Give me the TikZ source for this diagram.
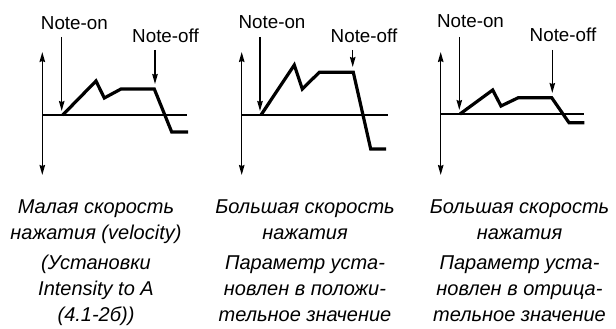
\documentclass[tikz,border=0pt]{standalone}
\usepackage{fontspec}
\setmainfont{Liberation Sans}
\usetikzlibrary{arrows.meta}
\begin{document}
\begin{tikzpicture}[x=1pt,y=-1pt,
 tip/.tip={Stealth[length=10pt,width=5.5pt,inset=1pt]},
 axis/.style={line width=1.4pt},
 vaxis/.style={line width=1.4pt,tip-tip},
 env/.style={line width=3.2pt,line join=miter},
 marker/.style={line width=1.3pt,-tip},
 lbl/.style={font=\fontsize{18.8}{20}\selectfont,anchor=base,inner sep=0pt},
 captxt/.style={font=\fontsize{20}{26}\selectfont\itshape,anchor=base,inner sep=0pt}]
\useasboundingbox (0,0) rectangle (616,329);
% ---------- panel 1 ----------
\coordinate (a1t) at (42.3,52);
\coordinate (a1b) at (42.3,175);
\coordinate (h1l) at (42.3,115);
\coordinate (h1r) at (187,115);
\draw[vaxis] (a1b) -- (a1t);
\draw[axis] (h1l) -- (h1r);
\coordinate (e1a) at (62.7,115);
\coordinate (e1b) at (96,81);
\coordinate (e1c) at (104.3,98);
\coordinate (e1d) at (121,89);
\coordinate (e1e) at (154.3,89);
\coordinate (e1f) at (171.7,132);
\coordinate (e1g) at (188,132);
\draw[env] (e1a) -- (e1b) -- (e1c) -- (e1d) -- (e1e) -- (e1f) -- (e1g);
\node[lbl] (on1) at (74.4,29.3) {Note-on};
\node[lbl] (off1) at (165.5,43) {Note-off};
\coordinate (on1s) at (61.7,37);
\coordinate (on1e) at (61.7,111);
\coordinate (off1s) at (155,50);
\coordinate (off1e) at (155,84);
\draw[marker] (on1s) -- (on1e);
\draw[marker] (off1s) -- (off1e);
% ---------- panel 2 ----------
\coordinate (a2t) at (241.7,52);
\coordinate (a2b) at (241.7,175);
\coordinate (h2l) at (241.7,115);
\coordinate (h2r) at (388,115);
\draw[vaxis] (a2b) -- (a2t);
\draw[axis] (h2l) -- (h2r);
\coordinate (e2a) at (261,115);
\coordinate (e2b) at (294.3,65);
\coordinate (e2c) at (302.3,89);
\coordinate (e2d) at (319.3,72.3);
\coordinate (e2e) at (353.3,72.3);
\coordinate (e2f) at (370.7,149);
\coordinate (e2g) at (386,149);
\draw[env] (e2a) -- (e2b) -- (e2c) -- (e2d) -- (e2e) -- (e2f) -- (e2g);
\node[lbl] (on2) at (272,28.7) {Note-on};
\node[lbl] (off2) at (364,42.7) {Note-off};
\coordinate (on2s) at (260,37);
\coordinate (on2e) at (260,111);
\coordinate (off2s) at (352.7,50);
\coordinate (off2e) at (352.7,67);
\draw[marker] (on2s) -- (on2e);
\draw[marker] (off2s) -- (off2e);
% ---------- panel 3 ----------
\coordinate (a3t) at (440.7,52);
\coordinate (a3b) at (440.7,175);
\coordinate (h3l) at (440.7,114);
\coordinate (h3r) at (584,114);
\draw[vaxis] (a3b) -- (a3t);
\draw[axis] (h3l) -- (h3r);
\coordinate (e3a) at (460,114);
\coordinate (e3b) at (492.7,90);
\coordinate (e3c) at (501,106);
\coordinate (e3d) at (518.3,97.7);
\coordinate (e3e) at (551.7,97.7);
\coordinate (e3f) at (569,122.7);
\coordinate (e3g) at (584.3,122.7);
\draw[env] (e3a) -- (e3b) -- (e3c) -- (e3d) -- (e3e) -- (e3f) -- (e3g);
\node[lbl] (on3) at (470.5,27.3) {Note-on};
\node[lbl] (off3) at (563,41.7) {Note-off};
\coordinate (on3s) at (459.3,37);
\coordinate (on3e) at (459.3,110);
\coordinate (off3s) at (552.3,50);
\coordinate (off3e) at (552.3,93);
\draw[marker] (on3s) -- (on3e);
\draw[marker] (off3s) -- (off3e);
% ---------- captions ----------
\node[captxt] (c1a) at (96,213) {Малая скорость};
\node[captxt] (c1b) at (96,239.3) {нажатия (velocity)};
\node[captxt] (c1c) at (96,269) {(Установки};
\node[captxt] (c1d) at (96,295) {Intensity to A};
\node[captxt] (c1e) at (96,321) {(4.1-2б))};
\node[captxt] (c2a) at (305,213) {Большая скорость};
\node[captxt] (c2b) at (305,239.3) {нажатия};
\node[captxt] (c2c) at (305,269.3) {Параметр уста-};
\node[captxt] (c2d) at (305,295.7) {новлен в положи-};
\node[captxt] (c2e) at (305,321.7) {тельное значение};
\node[captxt] (c3a) at (519.5,213) {Большая скорость};
\node[captxt] (c3b) at (519.5,239.3) {нажатия};
\node[captxt] (c3c) at (519.5,269.3) {Параметр уста-};
\node[captxt] (c3d) at (519.5,295.7) {новлен в отрица-};
\node[captxt] (c3e) at (519.5,321.7) {тельное значение};
\end{tikzpicture}
\end{document}
